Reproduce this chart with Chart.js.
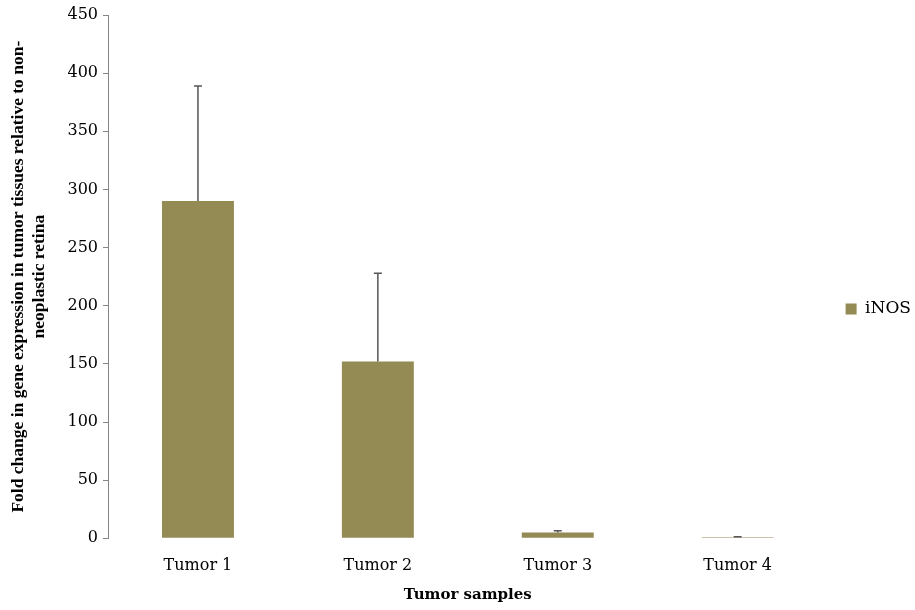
<!DOCTYPE html>
<html>
<head>
<meta charset="utf-8">
<script src="https://cdn.jsdelivr.net/npm/chart.js@4.4.1/dist/chart.umd.min.js"></script>
<style>
  html, body { margin: 0; padding: 0; background: #ffffff; }
  #wrap { width: 915px; height: 610px; }
</style>
</head>
<body>
<div id="wrap"><canvas id="c" width="915" height="610"></canvas></div>
<script>
// Fold change in iNOS expression per tumor sample, with upper error (SD)
const categories = ['Tumor 1', 'Tumor 2', 'Tumor 3', 'Tumor 4'];
const seriesName = 'iNOS';
const foldChange = [290, 152, 5, 1];
const errorUp = [99, 76, 1.5, 0.3];
const yTicks = [0, 50, 100, 150, 200, 250, 300, 350, 400, 450];

const barColor = '#948A54';
const axisGray = '#868686';

// Draws one-sided (upper) error whiskers on top of each bar
const errorBars = {
  id: 'errorBars',
  afterDatasetsDraw(chart) {
    const ctx = chart.ctx;
    const meta = chart.getDatasetMeta(0);
    const y = chart.scales.y;
    ctx.save();
    ctx.strokeStyle = '#555555';
    ctx.lineWidth = 1.5;
    meta.data.forEach((bar, i) => {
      const x = bar.x;
      const y0 = y.getPixelForValue(foldChange[i]);
      const y1 = y.getPixelForValue(foldChange[i] + errorUp[i]);
      ctx.beginPath();
      ctx.moveTo(x, y0);
      ctx.lineTo(x, y1);
      ctx.moveTo(x - 4, y1);
      ctx.lineTo(x + 4, y1);
      ctx.stroke();
    });
    ctx.restore();
  }
};

new Chart(document.getElementById('c'), {
  type: 'bar',
  data: {
    labels: categories,
    datasets: [{
      label: seriesName,
      data: foldChange,
      backgroundColor: barColor,
      borderWidth: 0,
      barPercentage: 0.4,
      categoryPercentage: 1.0
    }]
  },
  plugins: [errorBars],
  options: {
    responsive: false,
    animation: false,
    devicePixelRatio: 1,
    layout: { padding: { left: 8, right: -6, top: 15, bottom: 7 } },
    plugins: {
      legend: {
        position: 'right',
        labels: {
          boxWidth: 11,
          boxHeight: 11,
          padding: 18,
          color: '#000',
          font: { family: 'DejaVu Serif', size: 17 }
        }
      },
      tooltip: { enabled: false }
    },
    scales: {
      x: {
        grid: { display: false },
        border: { display: false },
        ticks: {
          color: '#000',
          padding: 10,
          font: { family: 'DejaVu Serif', size: 16 }
        },
        title: {
          display: true,
          text: 'Tumor samples',
          color: '#000',
          padding: { top: 1, bottom: 0 },
          font: { family: 'DejaVu Serif', size: 15, weight: 'bold', lineHeight: 1.1 }
        }
      },
      y: {
        min: 0,
        max: 450,
        afterBuildTicks(scale) { scale.ticks = yTicks.map(v => ({ value: v })); },
        afterFit(scale) { scale.width = 100; },
        grid: {
          drawOnChartArea: false,
          drawTicks: true,
          tickLength: 5,
          color: axisGray,
          lineWidth: 1
        },
        border: { display: true, color: axisGray, width: 1 },
        ticks: {
          color: '#000',
          padding: 5,
          font: { family: 'DejaVu Serif', size: 16 }
        },
        title: {
          display: true,
          text: ['Fold change in gene expression in tumor tissues relative to non-', 'neoplastic retina'],
          color: '#000',
          padding: { top: 0, bottom: 0 },
          font: { family: 'Liberation Serif', size: 17.5, weight: 'bold', lineHeight: 1.2 }
        }
      }
    }
  }
});
</script>
</body>
</html>
